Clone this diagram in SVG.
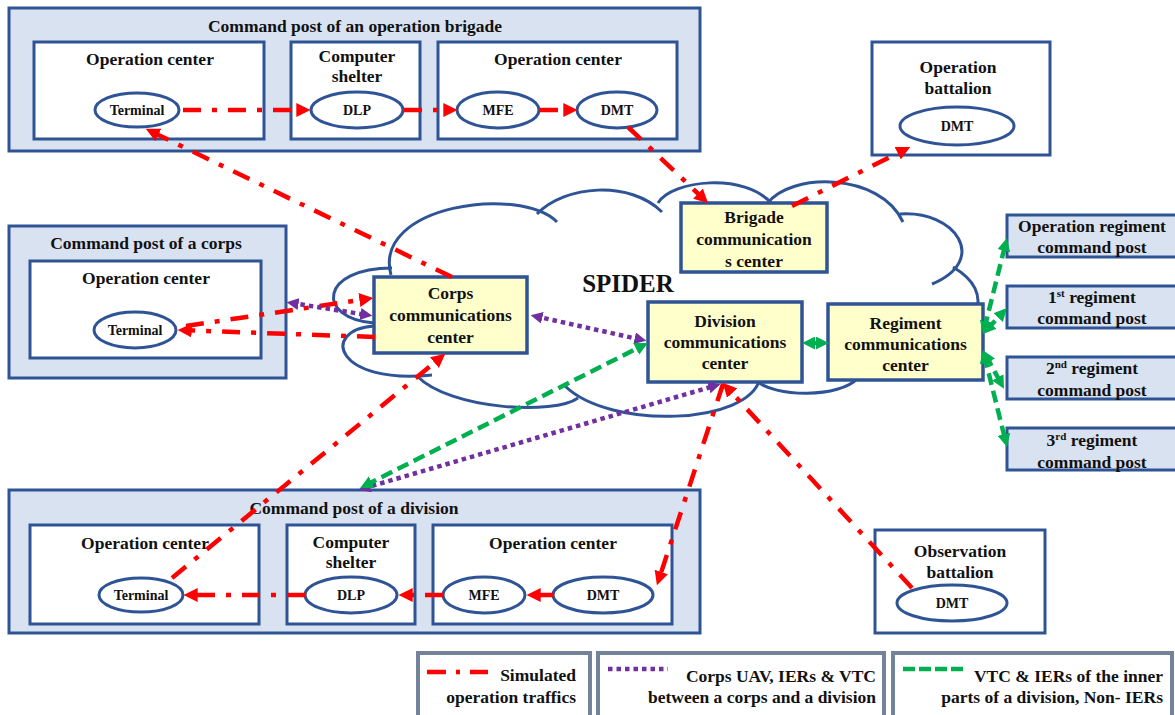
<svg xmlns="http://www.w3.org/2000/svg" width="1175" height="715" viewBox="0 0 1175 715">
<defs>
<style>
.cp{fill:#d9e2f0;stroke:#2f5496;stroke-width:3}
.in{fill:#ffffff;stroke:#2f5496;stroke-width:3}
.el{fill:#ffffff;stroke:#2f5496;stroke-width:3}
.cc{fill:#ffffcc;stroke:#2f5496;stroke-width:3.5}
.t{font-family:"Liberation Serif","Times New Roman",serif;font-weight:bold;font-size:17.5px;text-anchor:middle;fill:#111111}
.s{font-size:14px}
.e{text-anchor:end}
.big{font-size:25px}
.sup{font-size:11px}
.cloud{fill:none;stroke:#2f5496;stroke-width:3}
.red{fill:none;stroke:#ff0000;stroke-width:4.5;stroke-dasharray:18 11 5 11}
.pur{fill:none;stroke:#7030a0;stroke-width:4.5;stroke-dasharray:4.5 4}
.grn{fill:none;stroke:#00b050;stroke-width:4.5;stroke-dasharray:12 6}
.lg{fill:#ffffff;stroke:#72839a;stroke-width:4}
</style>
<marker id="ar" viewBox="0 0 10 10" refX="5.5" refY="5" markerWidth="14" markerHeight="14" markerUnits="userSpaceOnUse" orient="auto-start-reverse"><path d="M0,0 L10,5 L0,10 z" fill="#ff0000"/></marker>
<marker id="ap" viewBox="0 0 10 10" refX="5.5" refY="5" markerWidth="12" markerHeight="12" markerUnits="userSpaceOnUse" orient="auto-start-reverse"><path d="M0,0 L10,5 L0,10 z" fill="#7030a0"/></marker>
<marker id="ag" viewBox="0 0 10 10" refX="5.5" refY="5" markerWidth="13" markerHeight="13" markerUnits="userSpaceOnUse" orient="auto-start-reverse"><path d="M0,0 L10,5 L0,10 z" fill="#00b050"/></marker>
</defs>
<rect width="1175" height="715" fill="#ffffff"/>

<g id="spider-cloud" class="cloud">
<path d="M374,323 C315,318 320,268 392,268"/>
<path d="M391,275 C372,205 520,185 557,222"/>
<path d="M537,214 C565,185 630,180 662,212"/>
<path d="M658,203 C672,180 745,172 772,204"/>
<path d="M767,204 C790,172 880,172 903,222"/>
<path d="M900,214 C955,210 990,260 932,284"/>
<path d="M953,267 C975,280 982,295 976,315"/>
<path d="M858,378 C840,398 775,398 755,380"/>
<path d="M760,378 C750,425 610,430 565,386"/>
<path d="M578,398 C555,415 450,410 417,376"/>
<path d="M432,375 C335,385 320,330 374,326"/>
</g>

<g id="cp-brigade">
<rect class="cp" x="9" y="8" width="691" height="143"/>
<text class="t" x="355" y="32">Command post of an operation brigade</text>
<rect class="in" x="34" y="42" width="230" height="97"/>
<text class="t" x="150" y="65">Operation center</text>
<rect class="in" x="291" y="42" width="129" height="97"/>
<text class="t" x="357" y="62">Computer</text>
<text class="t" x="357" y="82">shelter</text>
<rect class="in" x="438" y="42" width="239" height="97"/>
<text class="t" x="558" y="65">Operation center</text>
</g>
<g id="brigade-terminal"><ellipse class="el" cx="137" cy="110" rx="42" ry="17"/><text class="t s" x="137" y="115">Terminal</text></g>
<g id="brigade-dlp"><ellipse class="el" cx="357" cy="110" rx="46" ry="18"/><text class="t s" x="357" y="115">DLP</text></g>
<g id="brigade-mfe"><ellipse class="el" cx="498" cy="110" rx="41" ry="18"/><text class="t s" x="498" y="115">MFE</text></g>
<g id="brigade-dmt"><ellipse class="el" cx="617" cy="110" rx="40" ry="18"/><text class="t s" x="617" y="115">DMT</text></g>

<g id="operation-battalion">
<rect class="in" x="872" y="42" width="178" height="113"/>
<text class="t" x="958" y="73">Operation</text>
<text class="t" x="958" y="94">battalion</text>
<ellipse class="el" cx="957" cy="126" rx="57" ry="19"/>
<text class="t s" x="957" y="131">DMT</text>
</g>

<g id="cp-corps">
<rect class="cp" x="9" y="226" width="277" height="152"/>
<text class="t" x="146" y="249">Command post of a corps</text>
<rect class="in" x="30" y="261" width="231" height="97"/>
<text class="t" x="146" y="284">Operation center</text>
</g>
<g id="corps-terminal"><ellipse class="el" cx="135" cy="330" rx="41" ry="18"/><text class="t s" x="135" y="335">Terminal</text></g>

<g id="corps-comm"><rect class="cc" x="374" y="277" width="153" height="76"/>
<text class="t" x="450.5" y="299">Corps</text><text class="t" x="450.5" y="321">communications</text><text class="t" x="450.5" y="343">center</text></g>
<g id="brigade-comm"><rect class="cc" x="681" y="203" width="146" height="69"/>
<text class="t" x="754" y="223">Brigade</text><text class="t" x="754" y="245">communication</text><text class="t" x="754" y="267">s center</text></g>
<g id="division-comm"><rect class="cc" x="648" y="302" width="154" height="80"/>
<text class="t" x="725" y="327">Division</text><text class="t" x="725" y="348">communications</text><text class="t" x="725" y="369">center</text></g>
<g id="regiment-comm"><rect class="cc" x="828" y="304" width="155" height="76"/>
<text class="t" x="905.5" y="329">Regiment</text><text class="t" x="905.5" y="350">communications</text><text class="t" x="905.5" y="371">center</text></g>
<text id="spider-label" class="t big" x="628" y="292">SPIDER</text>

<g id="cp-op-regiment"><rect class="cp" x="1007" y="215" width="180" height="42"/>
<text class="t" x="1092" y="232">Operation regiment</text><text class="t" x="1092" y="253">command post</text></g>
<g id="cp-1st-regiment"><rect class="cp" x="1007" y="286" width="180" height="42"/>
<text class="t" x="1092" y="303">1<tspan class="sup" dy="-6">st</tspan><tspan dy="6"> regiment</tspan></text><text class="t" x="1092" y="324">command post</text></g>
<g id="cp-2nd-regiment"><rect class="cp" x="1007" y="357" width="180" height="42"/>
<text class="t" x="1092" y="374">2<tspan class="sup" dy="-6">nd</tspan><tspan dy="6"> regiment</tspan></text><text class="t" x="1092" y="396">command post</text></g>
<g id="cp-3rd-regiment"><rect class="cp" x="1007" y="428" width="180" height="42"/>
<text class="t" x="1092" y="446">3<tspan class="sup" dy="-6">rd</tspan><tspan dy="6">  regiment</tspan></text><text class="t" x="1092" y="468">command post</text></g>

<g id="cp-division">
<rect class="cp" x="9" y="490" width="691" height="143"/>
<text class="t" x="354" y="514">Command post of a division</text>
<rect class="in" x="30" y="525" width="229" height="99"/>
<text class="t" x="145" y="549">Operation center</text>
<rect class="in" x="287" y="525" width="128" height="99"/>
<text class="t" x="351" y="548">Computer</text>
<text class="t" x="351" y="568">shelter</text>
<rect class="in" x="433" y="525" width="239" height="99"/>
<text class="t" x="553" y="549">Operation center</text>
</g>
<g id="division-terminal"><ellipse class="el" cx="141" cy="595" rx="42" ry="17"/><text class="t s" x="141" y="600">Terminal</text></g>
<g id="division-dlp"><ellipse class="el" cx="351" cy="595" rx="46" ry="18"/><text class="t s" x="351" y="600">DLP</text></g>
<g id="division-mfe"><ellipse class="el" cx="484" cy="595" rx="41" ry="18"/><text class="t s" x="484" y="600">MFE</text></g>
<g id="division-dmt"><ellipse class="el" cx="603" cy="595" rx="50" ry="18"/><text class="t s" x="603" y="600">DMT</text></g>

<g id="observation-battalion">
<rect class="in" x="875" y="530" width="170" height="103"/>
<text class="t" x="960" y="557">Observation</text>
<text class="t" x="960" y="578">battalion</text>
<ellipse class="el" cx="952" cy="603" rx="55" ry="18"/>
<text class="t s" x="952" y="608">DMT</text>
</g>

<g id="connectors">
<path class="red" marker-end="url(#ar)" d="M183,110 L304,110"/>
<path class="red" marker-end="url(#ar)" d="M404,110 L451,110"/>
<path class="red" marker-end="url(#ar)" d="M540,110 L571,110"/>
<path class="red" marker-end="url(#ar)" d="M628,127 L703.6,198.9"/>
<path class="red" marker-end="url(#ar)" d="M792,206 L904.6,149.7"/>
<path class="red" marker-end="url(#ar)" d="M452,277 L151.4,131.6"/>
<path class="red" marker-end="url(#ar)" d="M375,337 L184,330.2"/>
<path class="red" marker-end="url(#ar)" d="M186,326 L367,298.9"/>
<path class="red" marker-end="url(#ar)" d="M172,578 L440.4,357.8"/>
<path class="red" marker-end="url(#ar)" d="M723,384 L658.9,579.3"/>
<path class="red" marker-end="url(#ar)" d="M912,588 L727,387.4"/>
<path class="red" marker-end="url(#ar)" d="M553,595 L533,595"/>
<path class="red" marker-end="url(#ar)" d="M443,595 L405,595"/>
<path class="red" marker-end="url(#ar)" d="M305,595 L190,595"/>
<path class="pur" marker-start="url(#ap)" marker-end="url(#ap)" d="M292,303 L367,315"/>
<path class="pur" marker-start="url(#ap)" marker-end="url(#ap)" d="M535.9,316.3 L641.1,339.7"/>
<path class="pur" marker-start="url(#ap)" marker-end="url(#ap)" d="M363.8,488.3 L715.2,385.7"/>
<path class="grn" marker-start="url(#ag)" marker-end="url(#ag)" d="M365.4,485.3 L642.6,345.7"/>
<path class="grn" marker-start="url(#ag)" marker-end="url(#ag)" d="M808,343 L823,343"/>
<path class="grn" marker-start="url(#ag)" marker-end="url(#ag)" d="M984.5,328.2 L1005.5,243.8"/>
<path class="grn" marker-start="url(#ag)" marker-end="url(#ag)" d="M987,329.6 L1003,312.4"/>
<path class="grn" marker-start="url(#ag)" marker-end="url(#ag)" d="M985.8,355.3 L1001.2,383.7"/>
<path class="grn" marker-start="url(#ag)" marker-end="url(#ag)" d="M984.4,355.8 L1005.6,441.2"/>
</g>

<g id="legend">
<rect class="lg" x="418" y="653" width="172" height="64"/>
<path d="M427,672 L488,672" fill="none" stroke="#ff0000" stroke-width="4.5" stroke-dasharray="19 10 4 10"/>
<text class="t e" x="576" y="681">Simulated</text>
<text class="t e" x="576" y="703">operation traffics</text>
<rect class="lg" x="598" y="653" width="286" height="64"/>
<path d="M608,669 L668,669" fill="none" stroke="#7030a0" stroke-width="4.5" stroke-dasharray="4.5 4"/>
<text class="t e" x="876" y="682">Corps UAV, IERs &amp; VTC</text>
<text class="t e" x="876" y="703">between a corps and a division</text>
<rect class="lg" x="893" y="653" width="279" height="64"/>
<path d="M903,669 L964,669" fill="none" stroke="#00b050" stroke-width="4.5" stroke-dasharray="12 4"/>
<text class="t e" x="1163" y="682">VTC &amp; IERs of the inner</text>
<text class="t e" x="1163" y="703">parts of a division, Non- IERs</text>
</g>
</svg>
